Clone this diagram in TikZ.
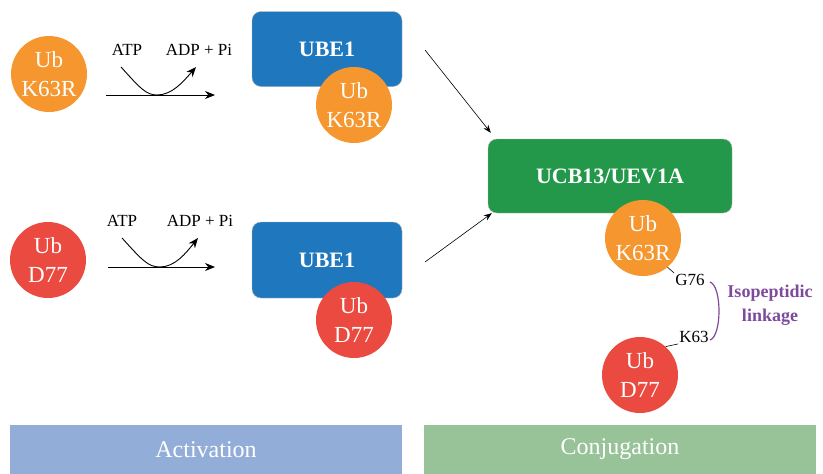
\documentclass[tikz,border=0pt]{standalone}
\usepackage{fontspec}
\setmainfont{Liberation Serif}
\usetikzlibrary{positioning, arrows.meta}
\definecolor{ubor}{HTML}{F5962F}
\definecolor{ubrd}{HTML}{EA4A40}
\definecolor{ebl}{HTML}{1F78BE}
\definecolor{egr}{HTML}{23984A}
\definecolor{barbl}{HTML}{92ADD8}
\definecolor{bargr}{HTML}{98C298}
\definecolor{lnkp}{HTML}{7E4A9C}

\begin{document}
\begin{tikzpicture}[x=1pt, y=-1pt, >={Stealth[length=10pt, width=8pt]},
  ub/.style={circle, minimum size=76pt, inner sep=0pt, text=white, align=center,
    font=\fontsize{23}{29}\selectfont},
  enz/.style={rounded corners=9pt, draw=black!30, line width=0.4pt, text=white,
    font=\bfseries\fontsize{22}{24}\selectfont},
  bar/.style={minimum height=49pt, minimum width=392pt, inner sep=0pt, text=white,
    font=\fontsize{24}{26}\selectfont},
  rx/.style={font=\fontsize{17}{19}\selectfont},
  feed/.style={->, line width=0.6pt, >={Stealth[length=8pt, width=6pt]}}]
  \useasboundingbox (0,0) rectangle (823,474);

  % activation, top row
  \node[ub, fill=ubor] (ubA) at (49,74) {Ub\\K63R};
  \coordinate (inA) at (106,95);
  \coordinate (outA) at (215,95);
  \draw[->, line width=0.9pt] (inA) -- (outA);
  \node[rx] (atpA) at (127,50) {ATP};
  \node[rx] (adpA) at (199,50) {ADP + Pi};
  \coordinate (botA) at (157,95);
  \draw[->, line width=0.9pt] (121,67) .. controls (140,88) and (146,95) .. (botA)
    .. controls (172,95) and (183,82) .. (196,67);
  \node[enz, fill=ebl, minimum width=150pt, minimum height=75pt] (ubeA) at (327,49) {UBE1};
  \node[ub, fill=ubor] (ubAe) at (354,105) {Ub\\K63R};

  % activation, bottom row
  \node[ub, fill=ubrd] (ubB) at (48,260) {Ub\\D77};
  \coordinate (inB) at (108,267);
  \coordinate (outB) at (215,267);
  \draw[->, line width=0.9pt] (inB) -- (outB);
  \node[rx] (atpB) at (122,221) {ATP};
  \node[rx] (adpB) at (200,221) {ADP + Pi};
  \coordinate (botB) at (160,267);
  \draw[->, line width=0.9pt] (122,238) .. controls (142,260) and (148,267) .. (botB)
    .. controls (175,267) and (186,253) .. (198,238);
  \node[enz, fill=ebl, minimum width=150pt, minimum height=76pt] (ubeB) at (327,260) {UBE1};
  \node[ub, fill=ubrd] (ubBe) at (354,320) {Ub\\D77};

  % conjugation
  \node[enz, fill=egr, minimum width=244pt, minimum height=74pt] (e2) at (610,176) {UCB13/UEV1A};
  \draw[feed] (425,50) -- ([xshift=3pt, yshift=6pt]e2.north west);
  \draw[feed] (425,262) -- ([xshift=4pt]e2.south west);
  \node[ub, fill=ubor] (ubC) at (643,238) {Ub\\K63R};
  \node[ub, fill=ubrd] (ubD) at (640,375) {Ub\\D77};
  \node[rx, inner sep=1pt] (g76) at (690,280) {G76};
  \node[rx, inner sep=1pt] (k63) at (694,337) {K63};
  \draw[line width=0.6pt] (ubC.-50) -- (g76.north west);
  \draw[line width=0.6pt] (ubD.48) -- (k63.south west);

  % isopeptidic linkage
  \coordinate (lkT) at (710,282);
  \coordinate (lkB) at (710,340);
  \draw[lnkp, line width=1.2pt] (lkT) .. controls (722,286) and (722,336) .. (lkB);
  \node[lnkp, align=center, font=\bfseries\fontsize{18}{24}\selectfont] (lnk) at (770,305) {Isopeptidic\\linkage};

  % phases
  \node[bar, fill=barbl] (act) at (206,449.5) {Activation};
  \node[bar, fill=bargr] (conj) at (620,449.5) {Conjugation};
\end{tikzpicture}
\end{document}
